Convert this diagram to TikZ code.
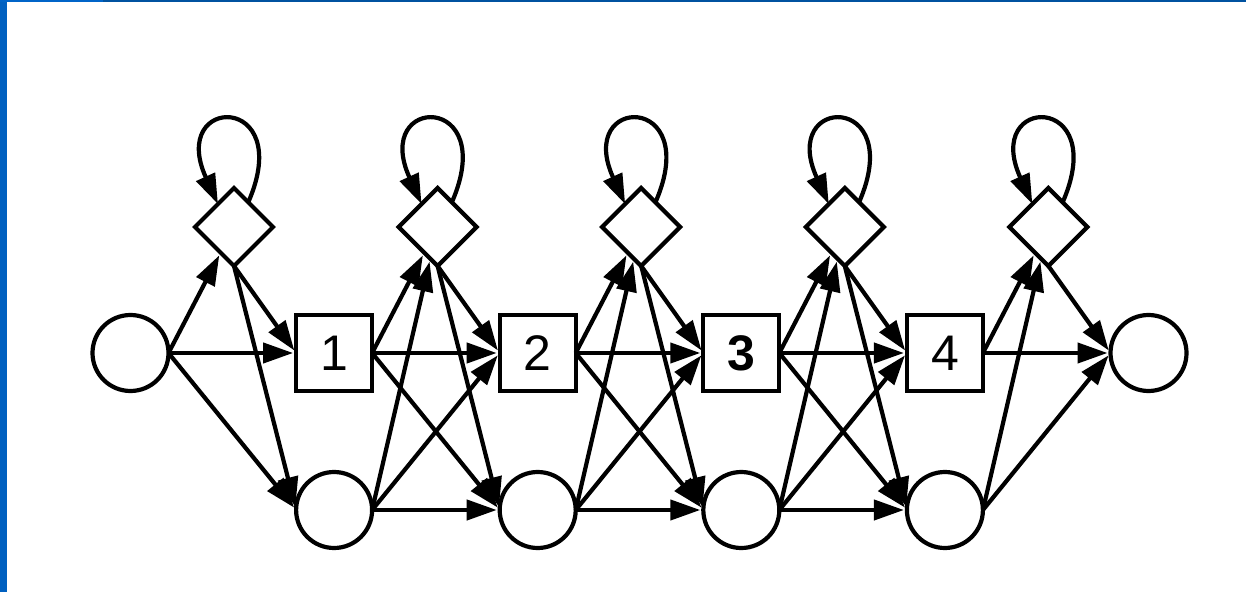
\documentclass[tikz,border=0pt]{standalone}
\usepackage{fontspec}
\setmainfont{Liberation Sans}
\usetikzlibrary{shapes.geometric,arrows.meta,calc}
\definecolor{leftblue}{RGB}{0,96,192}
\definecolor{topblue}{RGB}{0,82,160}
\definecolor{topblueb}{RGB}{0,100,200}
\begin{document}
\begin{tikzpicture}[x=1pt,y=1pt,
  statenode/.style={draw, line width=4.2pt, inner sep=0pt, outer sep=0pt},
  circ/.style={statenode, circle, minimum size=76pt},
  mbox/.style={statenode, rectangle, minimum size=76pt, font=\fontsize{50}{50}\selectfont},
  ins/.style={statenode, diamond, aspect=1, minimum size=78pt},
  arr/.style={line width=4.2pt, -{Triangle[length=30pt,width=20pt]}, shorten >=3pt},
  loopline/.style={line width=4.2pt, -{Triangle[length=30pt,width=20pt]}}
]
\fill[white] (0,0) rectangle (1246,592);
\useasboundingbox (0,0) rectangle (1246,592);
\fill[leftblue] (0,0) rectangle (7,592);
\fill[topblue] (0,589.5) rectangle (1246,592);
\fill[topblueb] (0,589.5) rectangle (103,592);

% begin and end
\node[circ] (S) at (130.5,239) {};
\node[circ] (E) at (1148.5,239) {};
% match, delete
\node[mbox] (M1) at (334.1,239) {1};
\node[mbox] (M2) at (537.7,239) {2};
\node[mbox] (M3) at (741.3,239) {\bfseries 3};
\node[mbox] (M4) at (944.9,239) {4};
\foreach \i/\x in {1/334.1,2/537.7,3/741.3,4/944.9}
  \node[circ] (D\i) at (\x,82) {};
% insert
\foreach \k/\x in {0/234,1/437.6,2/641.2,3/844.8,4/1048.4}
  \node[ins] (I\k) at (\x,365) {};

% self loops
\foreach \k in {0,...,4}
  \draw[loopline] (I\k.60) .. controls ($(I\k.60)+(48,110)$) and ($(I\k.125)+(-50,110)$) .. (I\k.125);

% begin transitions
\draw[arr] (S.east) -- (I0);
\draw[arr] (S.east) -- (M1.west);
\draw[arr] (S.east) -- (D1.west);
\draw[arr] (I0.south) -- (M1.west);
\draw[arr] (I0.south) -- (D1.west);

% internal transitions
\foreach \i [evaluate=\i as \j using int(\i+1)] in {1,2,3} {
  \draw[arr] (M\i.east) -- (I\i);
  \draw[arr] (M\i.east) -- (M\j.west);
  \draw[arr] (M\i.east) -- (D\j.west);
  \draw[arr] (D\i.east) -- (I\i);
  \draw[arr] (D\i.east) -- (M\j.west);
  \draw[arr] (D\i.east) -- (D\j.west);
  \draw[arr] (I\i.south) -- (M\j.west);
  \draw[arr] (I\i.south) -- (D\j.west);
}

% end transitions
\draw[arr] (M4.east) -- (I4);
\draw[arr] (M4.east) -- (E.west);
\draw[arr] (D4.east) -- (I4);
\draw[arr] (D4.east) -- (E.west);
\draw[arr] (I4.south) -- (E.west);
\end{tikzpicture}
\end{document}
